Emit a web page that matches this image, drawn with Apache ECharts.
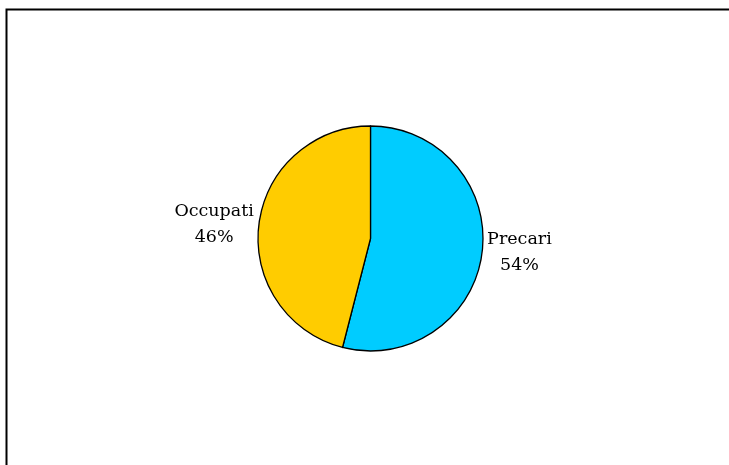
<!DOCTYPE html>
<html>
<head>
<meta charset="utf-8">
<script src="https://cdn.jsdelivr.net/npm/echarts@6/dist/echarts.min.js"></script>
<style>
html,body{margin:0;padding:0;background:#fff;}
#chart{width:729px;height:465px;}
</style>
</head>
<body>
<div id="chart"></div>
<script>
var categories = ['Precari', 'Occupati'];
var values = [54, 46];
var colors = ['#00CCFF', '#FFCC00'];

var chart = echarts.init(document.getElementById('chart'), null, {renderer: 'canvas'});
var data = categories.map(function (c, i) {
  return {name: c, value: values[i], itemStyle: {color: colors[i]}};
});
chart.setOption({
  backgroundColor: '#ffffff',
  animation: false,
  graphic: [{
    type: 'rect',
    shape: {x: 6.5, y: 9.5, width: 800, height: 600},
    style: {fill: null, stroke: '#000', lineWidth: 2}
  }],
  series: [{
    type: 'pie',
    center: [370.5, 238.5],
    radius: 112.5,
    startAngle: 90,
    clockwise: true,
    itemStyle: {borderColor: '#000', borderWidth: 1.3},
    emphasis: {disabled: true},
    label: {
      show: true,
      position: 'outside',
      distanceToLabelLine: 5,
      fontFamily: 'DejaVu Serif',
      fontSize: 17.5,
      color: '#000',
      lineHeight: 26,
      formatter: function (p) {
        return '{a|' + p.name + '}\n{a|' + Math.round(p.percent) + '%}';
      },
      rich: {
        a: {align: 'center', fontFamily: 'DejaVu Serif', fontSize: 17.5, lineHeight: 26, color: '#000'}
      }
    },
    labelLine: {show: false, length: 0, length2: 0},
    data: data
  }]
});
</script>
</body>
</html>
